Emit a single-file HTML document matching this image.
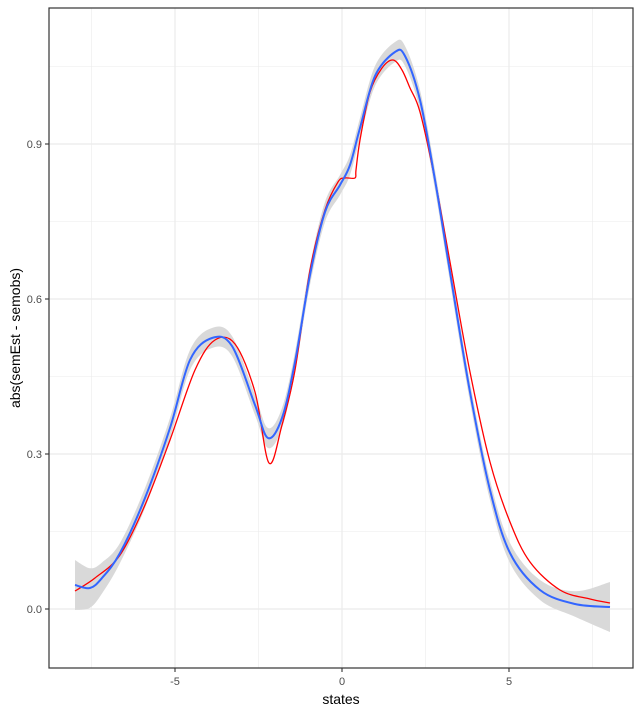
<!DOCTYPE html><html><head><style>body{margin:0;background:#fff}</style></head><body>
<svg id="s" width="643" height="713" xmlns="http://www.w3.org/2000/svg" font-family="Liberation Sans, sans-serif">
<g stroke="#ebebeb" stroke-width="0.6">
<line x1="49" x2="633" y1="66.5" y2="66.5"/><line x1="49" x2="633" y1="221.5" y2="221.5"/><line x1="49" x2="633" y1="376.5" y2="376.5"/><line x1="49" x2="633" y1="531.5" y2="531.5"/>
<line y1="8" y2="668" x1="91.5" x2="91.5"/><line y1="8" y2="668" x1="258.5" x2="258.5"/><line y1="8" y2="668" x1="425.5" x2="425.5"/><line y1="8" y2="668" x1="592.5" x2="592.5"/>
</g>
<g stroke="#ebebeb" stroke-width="1.2">
<line x1="49" x2="633" y1="144" y2="144"/><line x1="49" x2="633" y1="299" y2="299"/><line x1="49" x2="633" y1="454" y2="454"/><line x1="49" x2="633" y1="609" y2="609"/>
<line y1="8" y2="668" x1="175" x2="175"/><line y1="8" y2="668" x1="342" x2="342"/><line y1="8" y2="668" x1="509" x2="509"/>
</g>
<path id="band" fill="#d9d9d9" stroke="none"/>
<path id="red" fill="none" stroke="#ff0000" stroke-width="1.3"/>
<path id="blue" fill="none" stroke="#3366ff" stroke-width="2" stroke-linejoin="round"/>
<rect x="49" y="8" width="584" height="660" fill="none" stroke="#333" stroke-width="1.2"/>
<g stroke="#333" stroke-width="1.1">
<line x1="45" x2="49" y1="144" y2="144"/><line x1="45" x2="49" y1="299" y2="299"/><line x1="45" x2="49" y1="454" y2="454"/><line x1="45" x2="49" y1="609" y2="609"/>
<line y1="668" y2="672" x1="175" x2="175"/><line y1="668" y2="672" x1="342" x2="342"/><line y1="668" y2="672" x1="509" x2="509"/>
</g>
<g font-size="11" fill="#4d4d4d" text-anchor="end">
<text x="42" y="148">0.9</text><text x="42" y="303">0.6</text><text x="42" y="458">0.3</text><text x="42" y="613">0.0</text>
</g>
<g font-size="11" fill="#4d4d4d" text-anchor="middle">
<text x="175" y="685">-5</text><text x="342" y="685">0</text><text x="509" y="685">5</text>
</g>
<text x="341" y="704" font-size="14" text-anchor="middle">states</text>
<text transform="translate(20,338) rotate(-90)" font-size="14" text-anchor="middle">abs(semEst - semobs)</text>
</svg>
<script>
function cr(p){var d="M"+p[0][0]+","+p[0][1];for(var i=0;i<p.length-1;i++){var a=p[i-1]||p[i],b=p[i],c=p[i+1],e=p[i+2]||c;
d+=" C"+(b[0]+(c[0]-a[0])/6).toFixed(1)+","+(b[1]+(c[1]-a[1])/6).toFixed(1)+" "+(c[0]-(e[0]-b[0])/6).toFixed(1)+","+(c[1]-(e[1]-b[1])/6).toFixed(1)+" "+c[0]+","+c[1];}return d;}
var red=[[75,591],[95,578],[120,555],[145,505],[170,440],[195,370],[215,340],[235,344],[255,392],[269,463],[282,425],[295,370],[310,270],[325,210],[338,182],[345,178],[355,178],[356,170],[360,140],[370,92],[382,68],[393,60],[402,70],[410,88],[420,112],[435,180],[450,262],[470,372],[490,462],[510,522],[530,562],[560,590],[590,599],[610,603]];
var blue=[[75,585],[90,588],[102,578],[120,553],[145,498],[170,428],[190,360],[212,338],[232,346],[255,405],[268,438],[282,418],[295,362],[310,275],[325,212],[340,185],[350,165],[360,128],[375,76],[395,52],[405,56],[420,100],[435,180],[450,272],[470,392],[490,490],[510,553],[540,590],[575,604],[610,607]];
function h(x){var t=Math.min(x-75,610-x);return t<40?11+(40-t)*0.35:10;}
var up=blue.map(function(p){return [p[0],p[1]-h(p[0])];}),lo=blue.map(function(p){return [p[0],p[1]+h(p[0])];}).reverse();
document.getElementById("band").setAttribute("d",cr(up)+" L"+cr(lo).slice(1)+" Z");
document.getElementById("red").setAttribute("d",cr(red));
document.getElementById("blue").setAttribute("d",cr(blue));
</script>
</body></html>
